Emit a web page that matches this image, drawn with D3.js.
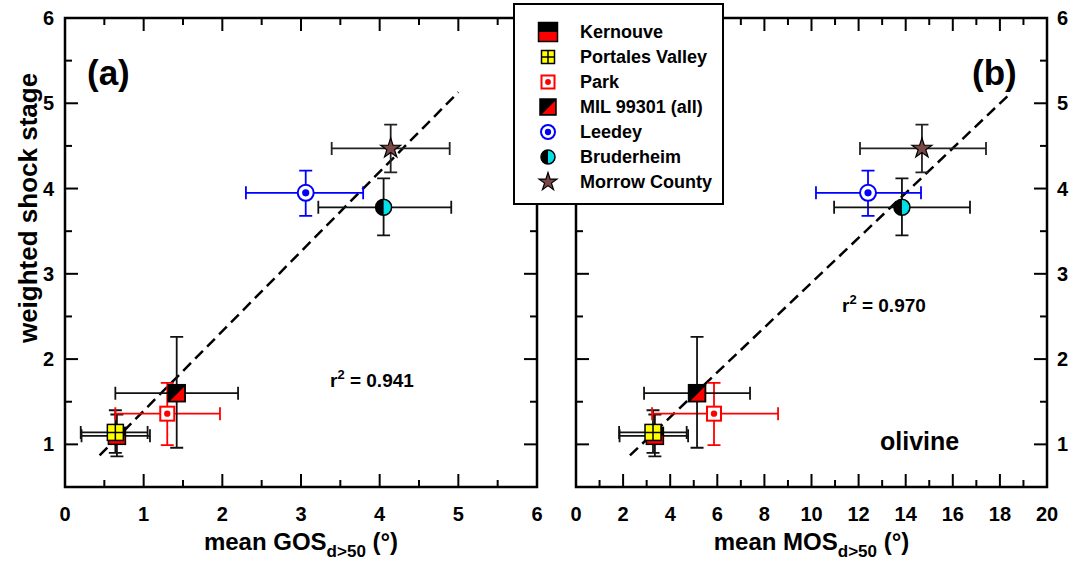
<!DOCTYPE html>
<html>
<head>
<meta charset="utf-8">
<script src="https://cdn.jsdelivr.net/npm/d3@7"></script>
<style>
  body { margin: 0; background: #fff; }
  text { font-family: "Liberation Sans", Arial, sans-serif; font-weight: bold; }
</style>
</head>
<body>
<div id="roott"></div>
<script>
// DATA
const names = ['Kernouve', 'Portales Valley', 'Park', 'MIL 99301 (all)', 'Leedey', 'Bruderheim', 'Morrow County'];
const stage   = [1.10, 1.14, 1.36, 1.60, 3.95, 3.78, 4.47];
const stageLo = [0.86, 0.90, 0.99, 0.96, 3.68, 3.45, 4.19];
const stageHi = [1.35, 1.40, 1.72, 2.26, 4.21, 4.12, 4.75];
const gos   = [0.66, 0.64, 1.30, 1.42, 3.06, 4.05, 4.14];
const gosLo = [0.21, 0.20, 0.64, 0.64, 2.30, 3.22, 3.39];
const gosHi = [1.08, 1.05, 1.97, 2.20, 3.79, 4.91, 4.89];
const mos   = [3.35, 3.27, 5.86, 5.14, 12.40, 13.84, 14.69];
const mosLo = [1.85, 1.83, 3.23, 2.89, 10.19, 10.96, 12.06];
const mosHi = [4.76, 4.70, 8.58, 7.39, 14.65, 16.73, 17.41];
const fitA = [[0.44, 0.87], [5.0, 5.13]];
const fitB = [[2.29, 0.87], [18.5, 5.13]];
const yTicks = [1, 2, 3, 4, 5, 6];
const xTicksA = [0, 1, 2, 3, 4, 5, 6];
const xTicksB = [0, 2, 4, 6, 8, 10, 12, 14, 16, 18, 20];

// DIMENSIONS
const W = 1070, H = 564;
const topp = 18, bott = 487;
const errColor = ['#111', '#111', 'red', '#111', '#0000ff', '#111', '#222'];

const svg = d3.select('#roott').append('svg')
  .attr('width', W).attr('height', H)
  .style('background-color', '#fff');

const yScaleA = d3.scaleLinear().domain([0.5, 6]).range([bott, topp]);

// marker shapes, drawn around 0,0
function drawMarker(g, i, s) {
  if (i == 0) {
    g.append('rect').attr('x', -s).attr('y', -s).attr('width', 2 * s).attr('height', s).style('fill', '#000');
    g.append('rect').attr('x', -s).attr('y', 0).attr('width', 2 * s).attr('height', s).style('fill', 'red');
    g.append('rect').attr('x', -s).attr('y', -s).attr('width', 2 * s).attr('height', 2 * s)
      .style('fill', 'none').style('stroke', '#000').style('stroke-width', 1.5);
  } else if (i == 1) {
    g.append('rect').attr('x', -s).attr('y', -s).attr('width', 2 * s).attr('height', 2 * s)
      .style('fill', '#ffff00').style('stroke', '#000').style('stroke-width', 1.5);
    g.append('path').attr('d', `M${-s},0H${s}M0,${-s}V${s}`).style('stroke', '#000').style('stroke-width', 1.5);
  } else if (i == 2) {
    g.append('rect').attr('x', -s).attr('y', -s).attr('width', 2 * s).attr('height', 2 * s)
      .style('fill', '#fff').style('stroke', 'red').style('stroke-width', 2);
    g.append('circle').attr('r', s * 0.45).style('fill', 'red');
  } else if (i == 3) {
    g.append('rect').attr('x', -s).attr('y', -s).attr('width', 2 * s).attr('height', 2 * s).style('fill', '#000');
    g.append('path').attr('d', `M${s - 1},${-s + 2}L${s - 1},${s - 1}L${-s + 2},${s - 1}Z`).style('fill', 'red');
    g.append('rect').attr('x', -s).attr('y', -s).attr('width', 2 * s).attr('height', 2 * s)
      .style('fill', 'none').style('stroke', '#000').style('stroke-width', 1.5);
  } else if (i == 4) {
    g.append('circle').attr('r', s).style('fill', '#fff').style('stroke', '#0000ff').style('stroke-width', 2);
    g.append('circle').attr('r', s * 0.45).style('fill', '#0000ff');
  } else if (i == 5) {
    g.append('path').attr('d', `M0,${-s}A${s},${s} 0 0,0 0,${s}Z`).style('fill', '#000');
    g.append('path').attr('d', `M0,${-s}A${s},${s} 0 0,1 0,${s}Z`).style('fill', '#00e0e8');
    g.append('circle').attr('r', s).style('fill', 'none').style('stroke', '#000').style('stroke-width', 1.5);
  } else {
    // star outer radius ~ s
    g.append('path').attr('d', d3.symbol(d3.symbolStar, s * s * 1.12)())
      .style('fill', '#7a4646').style('stroke', '#000').style('stroke-width', 1.2);
  }
}

function drawPanel(left, right, xmax, xTicks, minorStep, xv, xlo, xhi, fit, label, titleStem) {
  let xScale = d3.scaleLinear().domain([0, xmax]).range([left, right]);
  let g = svg.append('g');

  // ticks inward on all four sides
  let minorX = d3.range(0, xmax + 0.001, minorStep);
  minorX.forEach(v => {
    let major = xTicks.indexOf(+v.toFixed(3)) >= 0;
    let len = major ? 13 : 7;
    g.append('line').attr('x1', xScale(v)).attr('x2', xScale(v)).attr('y1', bott).attr('y2', bott - len)
      .style('stroke', '#000').style('stroke-width', 2);
    g.append('line').attr('x1', xScale(v)).attr('x2', xScale(v)).attr('y1', topp).attr('y2', topp + len)
      .style('stroke', '#000').style('stroke-width', 2);
  });
  d3.range(0.5, 6.001, 0.5).forEach(v => {
    let len = (v % 1 == 0) ? 13 : 7;
    g.append('line').attr('x1', left).attr('x2', left + len).attr('y1', yScaleA(v)).attr('y2', yScaleA(v))
      .style('stroke', '#000').style('stroke-width', 2);
    g.append('line').attr('x1', right).attr('x2', right - len).attr('y1', yScaleA(v)).attr('y2', yScaleA(v))
      .style('stroke', '#000').style('stroke-width', 2);
  });

  g.append('rect').attr('x', left).attr('y', topp).attr('width', right - left).attr('height', bott - topp)
    .style('fill', 'none').style('stroke', '#000').style('stroke-width', 2.5);

  // x tick labels
  g.selectAll('.xl').data(xTicks).enter().append('text')
    .attr('x', d => xScale(d)).attr('y', 521)
    .attr('text-anchor', 'middle').style('font-size', '20px')
    .text(d => d);

  // x title with subscript
  let t = g.append('text').attr('x', (left + right) / 2).attr('y', 550)
    .attr('text-anchor', 'middle').style('font-size', '24px');
  t.append('tspan').text('mean ' + titleStem);
  t.append('tspan').attr('dy', 7).style('font-size', '17px').text('d>50');
  t.append('tspan').attr('dy', -7).text(' (\u00b0)');

  // fit line
  g.append('path').datum(fit)
    .attr('d', d3.line().x(d => xScale(d[0])).y(d => yScaleA(d[1])))
    .style('stroke', '#000').style('stroke-width', 2.5).style('stroke-dasharray', '11,6').style('fill', 'none');

  // error bars
  let cap = 6.5;
  names.forEach((n, i) => {
    let cx = xScale(xv[i]), cy = yScaleA(stage[i]);
    let x0 = xScale(xlo[i]), x1 = xScale(xhi[i]);
    let y0 = yScaleA(stageLo[i]), y1 = yScaleA(stageHi[i]);
    g.append('path')
      .attr('d', `M${x0},${cy}H${x1}M${x0},${cy - cap}V${cy + cap}M${x1},${cy - cap}V${cy + cap}` +
        `M${cx},${y0}V${y1}M${cx - cap},${y0}H${cx + cap}M${cx - cap},${y1}H${cx + cap}`)
      .style('stroke', errColor[i]).style('stroke-width', 1.8).style('fill', 'none');
  });

  // markers
  let sizes = [8.5, 8, 7, 8.5, 8, 8, 10.5];
  names.forEach((n, i) => {
    let m = g.append('g').attr('transform', `translate(${xScale(xv[i])},${yScaleA(stage[i])})`);
    drawMarker(m, i, sizes[i]);
  });

  g.append('text').attr('x', label.x).attr('y', label.y).style('font-size', '35px').text(label.t);
  return xScale;
}

drawPanel(65, 537, 6, xTicksA, 0.5, gos, gosLo, gosHi, fitA, {x: 87, y: 85, t: '(a)'}, 'GOS');
drawPanel(576, 1047, 20, xTicksB, 1, mos, mosLo, mosHi, fitB, {x: 972, y: 85, t: '(b)'}, 'MOS');

// y tick labels, left of (a) and right of (b)
svg.selectAll('.yl').data(yTicks).enter().append('text')
  .attr('x', 54).attr('y', d => yScaleA(d) + 7).attr('text-anchor', 'end')
  .style('font-size', '20px').text(d => d);
svg.selectAll('.yr').data(yTicks).enter().append('text')
  .attr('x', 1057).attr('y', d => yScaleA(d) + 7).attr('text-anchor', 'start')
  .style('font-size', '20px').text(d => d);

svg.append('text').attr('transform', 'translate(37,208) rotate(-90)')
  .attr('text-anchor', 'middle').style('font-size', '26px').text('weighted shock stage');

// r squared + olivine
let r2a = svg.append('text').attr('x', 330).attr('y', 387).style('font-size', '19px');
r2a.append('tspan').text('r');
r2a.append('tspan').attr('dy', -8).style('font-size', '13px').text('2');
r2a.append('tspan').attr('dy', 8).text(' = 0.941');
let r2b = svg.append('text').attr('x', 842).attr('y', 312).style('font-size', '19px');
r2b.append('tspan').text('r');
r2b.append('tspan').attr('dy', -8).style('font-size', '13px').text('2');
r2b.append('tspan').attr('dy', 8).text(' = 0.970');
svg.append('text').attr('x', 880).attr('y', 450).style('font-size', '25px').text('olivine');

// legend
let leg = svg.append('g');
leg.append('rect').attr('x', 514).attr('y', 4).attr('width', 209).attr('height', 200)
  .style('fill', '#fff').style('stroke', '#000').style('stroke-width', 2);
let legSizes = [9.5, 6.5, 6.5, 8, 7, 7, 9.5];
names.forEach((n, i) => {
  let ly = 32 + i * 25;
  let m = leg.append('g').attr('transform', `translate(548,${ly})`);
  drawMarker(m, i, legSizes[i]);
  leg.append('text').attr('x', 580).attr('y', ly + 6).style('font-size', '18px').text(n);
});
</script>
</body>
</html>
